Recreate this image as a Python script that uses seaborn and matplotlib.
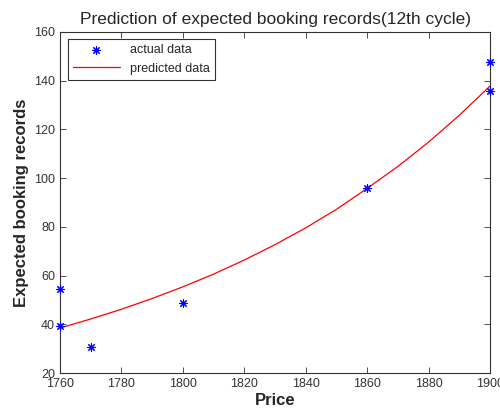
import matplotlib
matplotlib.use("Agg")
import matplotlib.pyplot as plt
import seaborn as sns
import pandas as pd

actual_price = [1760, 1760, 1770, 1800, 1860, 1900, 1900]
actual_records = [54.5, 39.3, 30.7, 48.7, 96.0, 147.7, 135.8]

pred_price = [1760, 1770, 1780, 1790, 1800, 1810, 1820, 1830, 1840, 1850, 1860, 1870, 1880, 1890, 1900]
pred_records = [38.5, 42.2, 46.2, 50.6, 55.4, 60.6, 66.4, 72.7, 79.6, 87.2, 95.8, 104.8, 114.8, 125.8, 137.8]

x_ticks = [1760, 1780, 1800, 1820, 1840, 1860, 1880, 1900]
y_ticks = [20, 40, 60, 80, 100, 120, 140, 160]

sns.set_style("ticks")
plt.rcParams['font.family'] = ['Liberation Sans', 'DejaVu Sans']

fig = plt.figure(figsize=(5, 4.15), dpi=100)
ax = fig.add_axes([0.12, 0.101, 0.86, 0.822])

df_a = pd.DataFrame({"Price": actual_price, "Records": actual_records})
df_p = pd.DataFrame({"Price": pred_price, "Records": pred_records})

sns.lineplot(data=df_p, x="Price", y="Records", ax=ax, color="red", linewidth=0.9,
             label="predicted data", zorder=2)
sns.scatterplot(data=df_a, x="Price", y="Records", ax=ax, marker=(8, 2, 0), color="blue",
                s=30, linewidth=0.8, edgecolor="blue", label="actual data", zorder=3, clip_on=False)

ax.set_xlim(1760, 1900)
ax.set_ylim(20, 160)
ax.set_xticks(x_ticks)
ax.set_yticks(y_ticks)
ax.tick_params(direction="in", top=True, right=True, labelsize=9, colors="#333333", length=4, width=0.6)
for s in ax.spines.values():
    s.set_visible(True)
    s.set_color("#333333")
    s.set_linewidth(0.8)

ax.set_xlabel("Price", fontsize=12, fontweight="bold", labelpad=2)
ax.set_ylabel("Expected booking records", fontsize=12, fontweight="bold", labelpad=4)
ax.set_title("Prediction of expected booking records(12th cycle)", fontsize=12.5, pad=6)

handles, labels = ax.get_legend_handles_labels()
order = [labels.index("actual data"), labels.index("predicted data")]
leg = ax.legend([handles[i] for i in order], [labels[i] for i in order],
                loc="upper left", fontsize=9, frameon=True, fancybox=False,
                edgecolor="black", borderaxespad=0.6, handlelength=3.8)
leg.get_frame().set_linewidth(0.8)

fig.savefig("out.png", dpi=100)
